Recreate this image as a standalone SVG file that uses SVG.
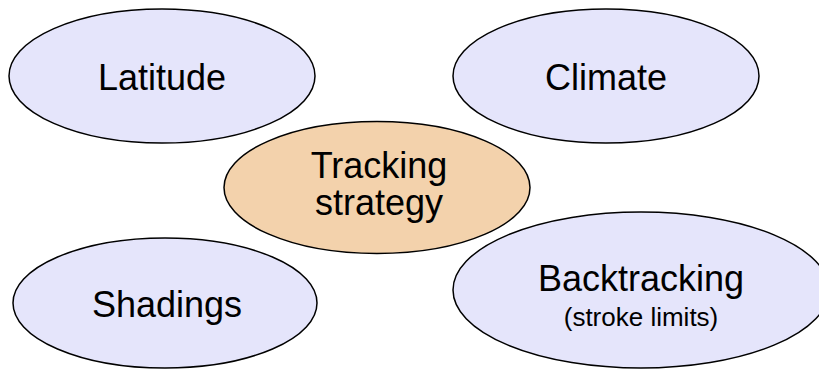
<svg xmlns="http://www.w3.org/2000/svg" width="819" height="369" viewBox="0 0 819 369">
  <style>
    .node { stroke: #000; stroke-width: 1.5; }
    .factor { fill: #E5E5FB; }
    .core { fill: #F3D2AC; }
    .label { font-family: "Liberation Sans", Arial, sans-serif; font-size: 36px; fill: #000; text-anchor: middle; }
    .sub { font-size: 26px; }
  </style>
  <rect width="819" height="369" fill="#fff"/>
  <g id="connectors"></g>
  <g id="latitude">
    <ellipse class="node factor" cx="162" cy="76" rx="153" ry="67"/>
    <text class="label" x="162" y="89.5">Latitude</text>
  </g>
  <g id="climate">
    <ellipse class="node factor" cx="606" cy="76" rx="153" ry="67"/>
    <text class="label" x="606" y="89.5">Climate</text>
  </g>
  <g id="tracking-strategy">
    <ellipse class="node core" cx="377" cy="187.5" rx="153" ry="66"/>
    <text class="label" x="379" y="178">Tracking</text>
    <text class="label" x="379" y="215">strategy</text>
  </g>
  <g id="shadings">
    <ellipse class="node factor" cx="165" cy="303" rx="152" ry="65"/>
    <text class="label" x="167" y="317">Shadings</text>
  </g>
  <g id="backtracking">
    <ellipse class="node factor" cx="641" cy="290" rx="188" ry="78"/>
    <text class="label" x="641" y="290.5">Backtracking</text>
    <text class="label sub" x="641" y="326">(stroke limits)</text>
  </g>
</svg>
